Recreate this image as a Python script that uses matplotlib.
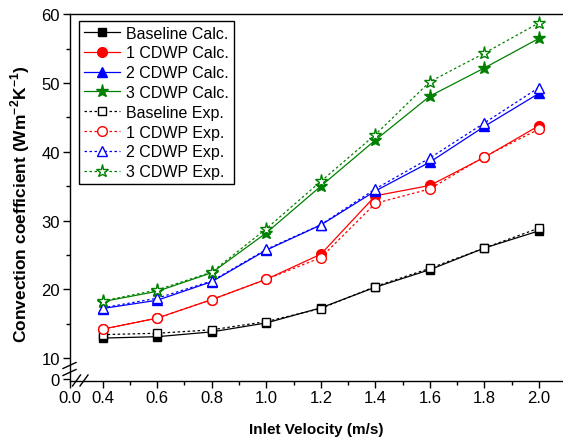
import matplotlib
matplotlib.use('Agg')
import matplotlib.pyplot as plt
import numpy as np

plt.rcParams['font.family'] = ['Liberation Sans', 'DejaVu Sans']
plt.rcParams['mathtext.fontset'] = 'custom'
plt.rcParams['mathtext.rm'] = 'Liberation Sans'
plt.rcParams['mathtext.bf'] = 'Liberation Sans:bold'

# inlet velocity (m/s)
velocity = [0.4, 0.6, 0.8, 1.0, 1.2, 1.4, 1.6, 1.8, 2.0]

# calculated convection coefficients
base_calc = [12.9, 13.1, 13.8, 15.1, 17.3, 20.3, 22.85, 26.0, 28.5]
cdwp1_calc = [14.2, 15.8, 18.5, 21.45, 25.1, 33.6, 35.1, 39.2, 43.8]
cdwp2_calc = [17.2, 18.4, 21.1, 25.7, 29.35, 34.3, 38.5, 43.7, 48.5]
cdwp3_calc = [18.2, 19.7, 22.4, 28.2, 35.0, 41.7, 48.1, 52.2, 56.5]

# experimental convection coefficients
base_exp = [13.4, 13.6, 14.1, 15.3, 17.2, 20.4, 23.05, 26.0, 28.9]
cdwp1_exp = [14.2, 15.8, 18.5, 21.45, 24.6, 32.5, 34.6, 39.3, 43.3]
cdwp2_exp = [17.3, 18.7, 21.2, 25.8, 29.4, 34.6, 39.1, 44.2, 49.35]
cdwp3_exp = [18.3, 19.9, 22.5, 28.8, 35.7, 42.5, 50.2, 54.35, 58.75]

labels_calc = ['Baseline Calc.', '1 CDWP Calc.', '2 CDWP Calc.', '3 CDWP Calc.']
labels_exp = ['Baseline Exp.', '1 CDWP Exp.', '2 CDWP Exp.', '3 CDWP Exp.']
colors = ['black', 'red', 'blue', 'green']
markers = ['s', 'o', '^', '*']
msizes = [6, 7, 7.5, 9.5]

xticks = [0.0, 0.4, 0.6, 0.8, 1.0, 1.2, 1.4, 1.6, 1.8, 2.0]
yticks = [0, 10, 20, 30, 40, 50, 60]

# broken axes: compress the ranges below 0.4 m/s and below 10
kx = 0.304
ky = 0.3057

def fx(x):
    x = np.asarray(x, dtype=float)
    return np.where(x >= 0.4, x, 0.4 - (0.4 - x) * kx)

def ifx(t):
    t = np.asarray(t, dtype=float)
    return np.where(t >= 0.4, t, 0.4 - (0.4 - t) / kx)

def fy(y):
    y = np.asarray(y, dtype=float)
    return np.where(y >= 10, y, 10 - (10 - y) * ky)

def ify(t):
    t = np.asarray(t, dtype=float)
    return np.where(t >= 10, t, 10 - (10 - t) / ky)

fig = plt.figure(figsize=(5.63, 4.39), dpi=100)
ax = fig.add_axes([69.5/563, 1 - 381.7/439, 1 - 69.5/563, (381.7 - 15.3)/439])
ax.set_xscale('function', functions=(fx, ifx))
ax.set_yscale('function', functions=(fy, ify))

calc = [base_calc, cdwp1_calc, cdwp2_calc, cdwp3_calc]
exp = [base_exp, cdwp1_exp, cdwp2_exp, cdwp3_exp]
for vals, lab, c, m, ms in zip(calc, labels_calc, colors, markers, msizes):
    ax.plot(velocity, vals, color=c, marker=m, markersize=ms, lw=0.9,
            markerfacecolor=c, markeredgecolor=c, label=lab)
for vals, lab, c, m, ms in zip(exp, labels_exp, colors, markers, msizes):
    ax.plot(velocity, vals, color=c, marker=m, markersize=ms, lw=0.9,
            dashes=(2, 2), markerfacecolor='white', markeredgecolor=c,
            markeredgewidth=1.0, label=lab)

ax.set_xlim(0.0, 2.088)
ax.set_ylim(-0.8, 60)
ax.set_xticks(xticks)
ax.set_xticklabels(['%.1f' % v for v in xticks])
ax.set_xticks(np.arange(0.5, 2.1, 0.2), minor=True)
ax.set_yticks(yticks)
ax.set_yticks([15, 25, 35, 45, 55], minor=True)
ax.tick_params(which='major', direction='out', length=5, width=1, labelsize=12, pad=2)
ax.tick_params(which='minor', direction='out', length=3, width=1)
ax.spines['right'].set_visible(False)
for s in ['left', 'bottom', 'top']:
    ax.spines[s].set_linewidth(1.0)

ax.set_xlabel('Inlet Velocity (m/s)', fontsize=11, fontweight='bold', labelpad=12)
ax.set_ylabel(r'Convection coefficient (Wm$^{\mathbf{-2}}$K$^{\mathbf{-1}}$)',
              fontsize=12.5, fontweight='bold')
ax.yaxis.set_label_coords(-0.077, 0.485)

# break marks on both axes
bk = dict(color='black', lw=1.0, clip_on=False, transform=fig.transFigure)
W, H = 563.0, 439.0
for yc in [366.5, 373.5]:
    ax.plot([63/W, 76/W], [1 - (yc + 3)/H, 1 - (yc - 3)/H], **bk)
for xc in [76.5, 84.0]:
    ax.plot([(xc - 4)/W, (xc + 4)/W], [1 - 387/H, 1 - 376/H], **bk)

leg = ax.legend(loc='upper left', bbox_to_anchor=(0.02, 0.982), borderaxespad=0,
                fontsize=11.5, numpoints=1, handlelength=2.25, handletextpad=0.4,
                labelspacing=0.3, borderpad=0.3, fancybox=False, framealpha=1)
leg.get_frame().set_edgecolor('black')
leg.get_frame().set_linewidth(1.0)

fig.savefig('out.png', dpi=100)
